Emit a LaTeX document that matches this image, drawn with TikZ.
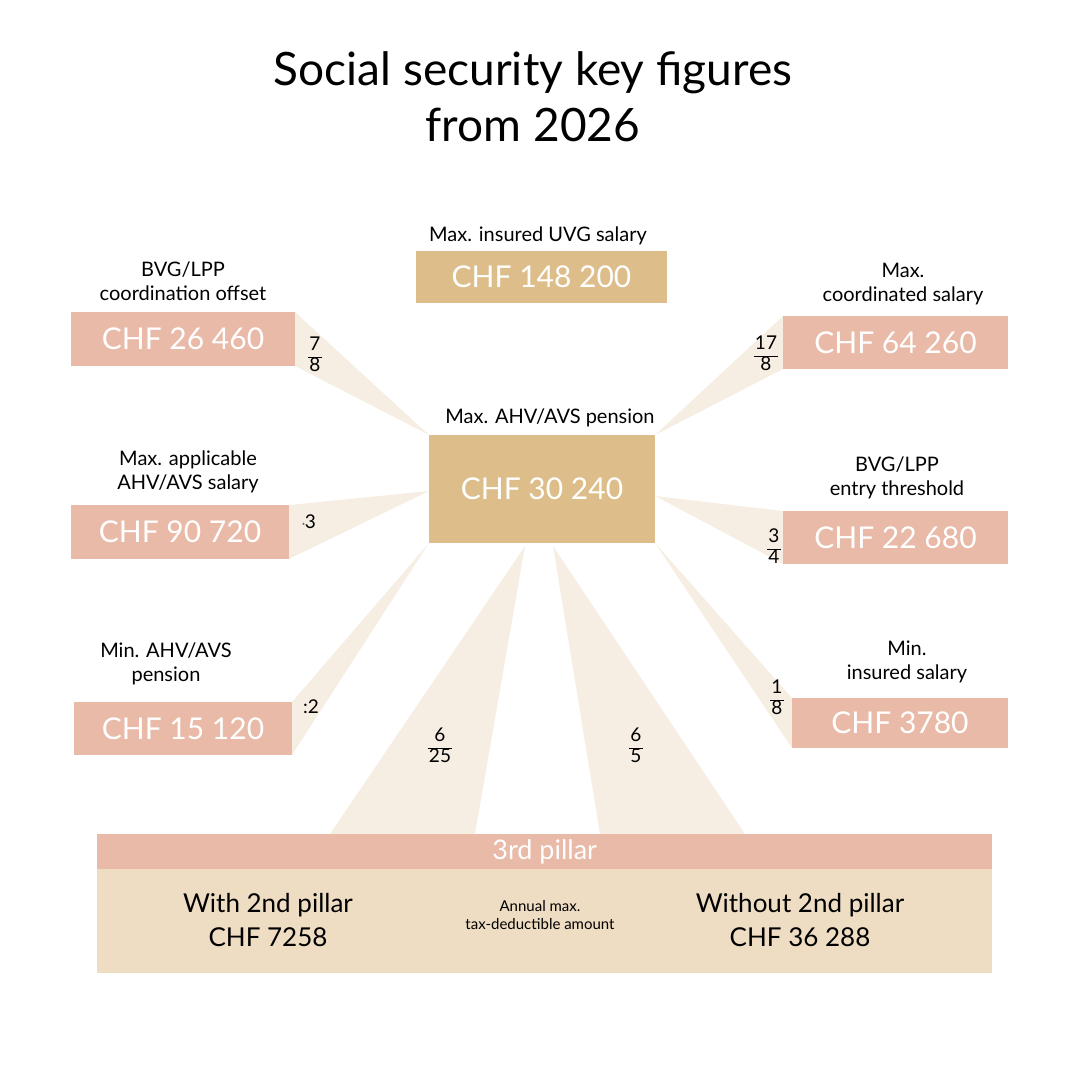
\documentclass[tikz,border=0pt]{standalone}
\usepackage{fontspec}
\setmainfont{Lato}
\definecolor{pink}{HTML}{E9BAA8}
\definecolor{tan}{HTML}{DDBD8A}
\definecolor{fan}{HTML}{F6EEE3}
\definecolor{beige}{HTML}{EFDDC3}
\newcommand{\fr}[2]{\renewcommand{\arraystretch}{1.05}\setlength{\tabcolsep}{1pt}\begin{tabular}{c}#1\\\hline #2\end{tabular}}
\begin{document}
\begin{tikzpicture}[x=1pt,y=-1pt,
  box/.style={fill=pink,inner sep=0pt,text=white,font=\fontsize{30}{30}\selectfont},
  lab/.style={align=center,font=\fontsize{20}{24}\selectfont},
  fr/.style={font=\fontsize{19}{20}\selectfont,inner sep=0pt}]
\useasboundingbox (0,0) rectangle (1080,1080);
\node[font=\fontsize{46}{56}\selectfont,align=center] (title) at (533,97) {Social security key figures\\from 2026};
% fans
\fill[fan] (429,435) -- (295,312) -- (295,366) -- cycle;
\fill[fan] (429,491) -- (289,505) -- (289,559) -- cycle;
\fill[fan] (429,543) -- (292,702) -- (292,755) -- cycle;
\fill[fan] (655,435) -- (783,316) -- (783,369) -- cycle;
\fill[fan] (655,496) -- (783,511) -- (783,564) -- cycle;
\fill[fan] (655,543) -- (792,698) -- (792,748) -- cycle;
\fill[fan] (525,546) -- (330,834) -- (475,834) -- cycle;
\fill[fan] (553,546) -- (600,834) -- (745,834) -- cycle;
% boxes
\node[box,fill=tan,minimum width=226,minimum height=108] (c) at (542,489) {CHF 30 240};
\node[lab,anchor=south] (cl) at (550,430) {Max. AHV/AVS pension};
\node[box,fill=tan,minimum width=251,minimum height=52] (u) at (541.5,277) {CHF 148 200};
\node[lab,anchor=south] (ul) at (538,248) {Max. insured UVG salary};
\node[box,minimum width=224,minimum height=54] (l1) at (183,339) {CHF 26 460};
\node[lab,anchor=south] (l1l) at (183,304) {BVG/LPP\\coordination offset};
\node[box,minimum width=218,minimum height=54] (l2) at (180,532) {CHF 90 720};
\node[lab,anchor=south] (l2l) at (188,496) {Max. applicable\\AHV/AVS salary};
\node[box,minimum width=218,minimum height=53] (l3) at (183,728.5) {CHF 15 120};
\node[lab,anchor=south] (l3l) at (166,688) {Min. AHV/AVS\\pension};
\node[box,minimum width=225,minimum height=53] (r1) at (895.5,342.5) {CHF 64 260};
\node[lab,anchor=south] (r1l) at (903,308) {Max.\\coordinated salary};
\node[box,minimum width=225,minimum height=53] (r2) at (895.5,537.5) {CHF 22 680};
\node[lab,anchor=south] (r2l) at (897,502) {BVG/LPP\\entry threshold};
\node[box,minimum width=216,minimum height=50] (r3) at (900,723) {CHF 3780};
\node[lab,anchor=south] (r3l) at (907,686) {Min.\\insured salary};
% ratios
\node[fr] (f1) at (315,357) {\fr{7}{8}};
\node[fr] (f2) at (309,522) {{\scriptsize*}3};
\node[fr] (f3) at (311,707) {:2};
\node[fr] (f4) at (766,356) {\fr{17}{8}};
\node[fr] (f5) at (774,549) {\fr{3}{4}};
\node[fr] (f6) at (777,700) {\fr{1}{8}};
\node[fr] (f7) at (440,748) {\fr{6}{25}};
\node[fr] (f8) at (636,748) {\fr{6}{5}};
% bottom
\node[fill=pink,minimum width=895,minimum height=35,inner sep=0pt,anchor=north west,text=white,font=\fontsize{27}{27}\selectfont] (p3) at (97,834) {3rd pillar};
\node[fill=beige,minimum width=895,minimum height=104,inner sep=0pt,anchor=north west] (pb) at (97,869) {};
\node[align=center,font=\fontsize{26}{34}\selectfont] (w) at (268,920) {With 2nd pillar\\CHF 7258};
\node[align=center,font=\fontsize{26}{34}\selectfont] (wo) at (800,920) {Without 2nd pillar\\CHF 36 288};
\node[align=center,font=\fontsize{15}{18}\selectfont] (am) at (540,915) {Annual max.\\tax-deductible amount};
\end{tikzpicture}
\end{document}
